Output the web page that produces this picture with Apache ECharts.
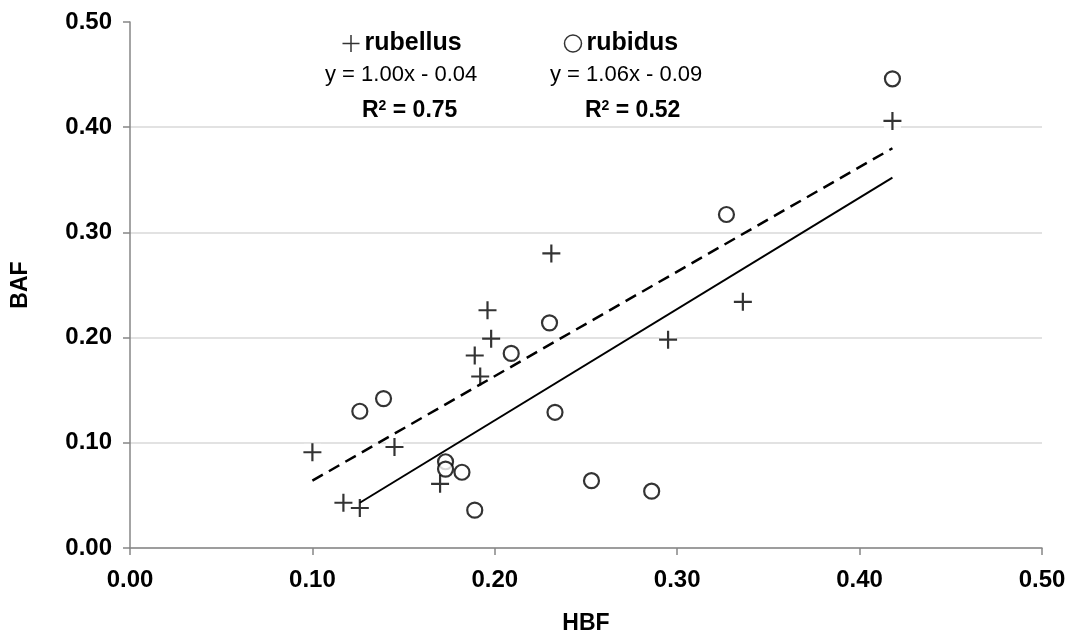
<!DOCTYPE html>
<html>
<head>
<meta charset="utf-8">
<script src="https://cdn.jsdelivr.net/npm/echarts@6/dist/echarts.min.js"></script>
<style>
  html, body { margin: 0; padding: 0; background: #fff; }
  #chart { width: 1072px; height: 636px; }
</style>
</head>
<body>
<div id="chart"></div>
<script>
// rubellus (+) points, [HBF, BAF]
var rubellus = [
    [0.418, 0.406], [0.231, 0.280], [0.196, 0.226], [0.198, 0.199],
    [0.189, 0.183], [0.192, 0.163], [0.336, 0.234], [0.295, 0.198],
    [0.100, 0.091], [0.145, 0.096], [0.170, 0.061], [0.117, 0.043],
    [0.126, 0.038]
]
// rubidus (o) points
var rubidus = [
    [0.418, 0.446], [0.327, 0.317], [0.230, 0.214], [0.209, 0.185],
    [0.139, 0.142], [0.126, 0.130], [0.233, 0.129], [0.173, 0.082],
    [0.173, 0.075], [0.182, 0.072], [0.253, 0.064], [0.286, 0.054],
    [0.189, 0.036]
]
// trend line end points as drawn
var rubellusTrend = [[0.100, 0.064], [0.418, 0.380]]
var rubidusTrend = [[0.126, 0.043], [0.418, 0.352]]
var xTicks = [0, 0.1, 0.2, 0.3, 0.4, 0.5]
var eqText = ['y = 1.00x - 0.04', 'y = 1.06x - 0.09']
var r2Text = ['0.75', '0.52']

var plusPath = 'path://M0,5L10,5M5,0L5,10'
var fontFam = '"Liberation Sans", Arial, sans-serif'

var chart = echarts.init(document.getElementById('chart'))

var axisLabelStyle = {
    color: '#000',
    fontFamily: fontFam,
    fontWeight: 'bold',
    fontSize: 24,
    formatter: function (v) { return v.toFixed(2) }
}
var supStyle = { sup: { fontSize: 14, fontWeight: 'bold', verticalAlign: 'top', padding: [0, 0, 9, 0] } }

var option = {
    animation: false,
    backgroundColor: '#fff',
    grid: { left: 130, right: 30, top: 22, bottom: 88, containLabel: false, outerBoundsMode: 'none' },
    legend: {
        left: 335,
        top: 26,
        itemWidth: 17,
        itemHeight: 17,
        itemGap: 102,
        textStyle: { color: '#000', fontFamily: fontFam, fontWeight: 'bold', fontSize: 25 },
        data: [
            { name: 'rubellus', icon: plusPath, itemStyle: { color: 'none', borderColor: '#000', borderWidth: 1.5 } },
            { name: 'rubidus', icon: 'circle', itemStyle: { color: '#fff', borderColor: '#000', borderWidth: 1.5 } }
        ]
    },
    graphic: [
        { type: 'text', left: 325, top: 64, style: { text: eqText[0], fill: '#000', font: '22px ' + fontFam } },
        { type: 'text', left: 550, top: 64, style: { text: eqText[1], fill: '#000', font: '22px ' + fontFam } },
        {
            type: 'text', left: 362, top: 99,
            style: { text: 'R{sup|2} = ' + r2Text[0], fill: '#000', font: 'bold 23px ' + fontFam, rich: supStyle }
        },
        {
            type: 'text', left: 585, top: 99,
            style: { text: 'R{sup|2} = ' + r2Text[1], fill: '#000', font: 'bold 23px ' + fontFam, rich: supStyle }
        }
    ],
    xAxis: {
        type: 'value',
        min: xTicks[0],
        max: xTicks[xTicks.length - 1],
        interval: 0.1,
        name: 'HBF',
        nameLocation: 'middle',
        nameGap: 64,
        nameTextStyle: { color: '#000', fontFamily: fontFam, fontWeight: 'bold', fontSize: 23 },
        axisLine: { lineStyle: { color: '#868686', width: 1.5 } },
        axisTick: { length: 7, lineStyle: { color: '#868686', width: 1.5 } },
        axisLabel: Object.assign({ margin: 20 }, axisLabelStyle),
        splitLine: { show: false }
    },
    yAxis: {
        type: 'value',
        min: 0,
        max: 0.5,
        interval: 0.1,
        name: 'BAF',
        nameLocation: 'middle',
        nameGap: 98,
        nameRotate: 90,
        nameTextStyle: { color: '#000', fontFamily: fontFam, fontWeight: 'bold', fontSize: 23 },
        axisLine: { show: true, lineStyle: { color: '#868686', width: 1.5 } },
        axisTick: { show: true, length: 7, lineStyle: { color: '#868686', width: 1.5 } },
        axisLabel: Object.assign({ margin: 18 }, axisLabelStyle),
        splitLine: {
            show: true,
            lineStyle: { color: ['#d9d9d9', '#d9d9d9', '#d9d9d9', '#d9d9d9', '#d9d9d9', 'rgba(0,0,0,0)'], width: 1.5 }
        }
    },
    series: [
        {
            // white boxes behind the plus markers
            name: 'plusBg',
            type: 'scatter',
            data: rubellus,
            symbol: 'rect',
            symbolSize: 17,
            itemStyle: { color: '#fff' },
            silent: true,
            z: 2
        },
        {
            name: 'rubellus trend',
            type: 'line',
            data: rubellusTrend,
            showSymbol: false,
            lineStyle: { color: '#000', width: 2.5, type: [12, 7] },
            z: 3
        },
        {
            name: 'rubidus trend',
            type: 'line',
            data: rubidusTrend,
            showSymbol: false,
            lineStyle: { color: '#000', width: 2 },
            z: 3
        },
        {
            name: 'rubellus',
            type: 'scatter',
            data: rubellus,
            symbol: plusPath,
            symbolSize: 18,
            itemStyle: { color: 'none', borderColor: '#000', borderWidth: 2.2 },
            z: 4
        },
        {
            name: 'rubidus',
            type: 'scatter',
            data: rubidus,
            symbol: 'circle',
            symbolSize: 15,
            itemStyle: { color: '#fff', borderColor: '#000', borderWidth: 2.2 },
            z: 4
        }
    ]
}

chart.setOption(option)
</script>
</body>
</html>
